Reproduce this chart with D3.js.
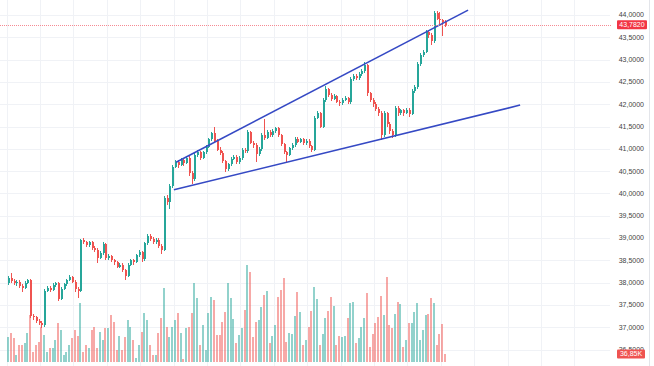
<!DOCTYPE html>
<html>
<head>
<meta charset="utf-8">
<script src="https://cdn.jsdelivr.net/npm/d3@7"></script>
<style>
  body { margin: 0; background: #fff; }
  svg { display: block; }
  text { font-family: "Liberation Sans", Arial, sans-serif; }
</style>
</head>
<body>
<div id="chart"></div>
<script>
const WIDTH = 654;
const HEIGHT = 366;
const PLOT_RIGHT = 610;

// [open, high, low, close]
const candles = [
  [37.98, 38.14, 37.95, 38.10], [38.10, 38.22, 37.99, 38.03], [38.03, 38.07, 37.94, 37.98], [37.98, 38.06, 37.92, 38.02],
  [38.02, 38.05, 37.88, 37.93], [37.93, 37.97, 37.78, 37.88], [37.88, 38.04, 37.85, 38.00], [38.00, 38.09, 37.96, 38.05],
  [38.05, 38.08, 37.20, 37.24], [37.24, 37.30, 37.16, 37.22], [37.22, 37.26, 37.10, 37.15], [37.15, 37.19, 37.05, 37.10],
  [37.10, 37.13, 36.98, 37.04], [37.04, 37.86, 37.00, 37.82], [37.82, 37.93, 37.78, 37.88], [37.88, 37.92, 37.79, 37.84],
  [37.84, 37.98, 37.81, 37.94], [37.94, 38.02, 37.90, 37.98], [37.98, 38.01, 37.58, 37.64], [37.64, 37.90, 37.61, 37.86],
  [37.86, 37.99, 37.83, 37.96], [37.96, 38.09, 37.93, 38.06], [38.06, 38.18, 38.03, 38.12], [38.12, 38.15, 37.98, 38.02],
  [38.02, 38.05, 37.78, 37.86], [37.86, 37.90, 37.66, 37.82], [37.82, 38.98, 37.80, 38.95], [38.95, 39.00, 38.86, 38.90],
  [38.90, 38.94, 38.80, 38.84], [38.84, 38.94, 38.80, 38.90], [38.90, 38.93, 38.74, 38.78], [38.78, 38.82, 38.68, 38.74],
  [38.74, 38.77, 38.44, 38.55], [38.55, 38.70, 38.52, 38.66], [38.66, 38.90, 38.62, 38.86], [38.86, 38.88, 38.50, 38.55],
  [38.55, 38.64, 38.50, 38.60], [38.60, 38.63, 38.46, 38.50], [38.50, 38.54, 38.40, 38.46], [38.46, 38.49, 38.32, 38.36],
  [38.36, 38.44, 38.33, 38.40], [38.40, 38.43, 38.24, 38.28], [38.28, 38.31, 38.06, 38.15], [38.15, 38.44, 38.12, 38.40],
  [38.40, 38.53, 38.37, 38.50], [38.50, 38.54, 38.40, 38.46], [38.46, 38.65, 38.43, 38.62], [38.62, 38.72, 38.58, 38.68],
  [38.68, 38.71, 38.46, 38.52], [38.52, 38.91, 38.49, 38.88], [38.88, 39.10, 38.85, 39.04], [39.04, 39.08, 38.94, 38.98],
  [38.98, 39.02, 38.86, 38.90], [38.90, 39.00, 38.87, 38.96], [38.96, 38.99, 38.78, 38.82], [38.82, 38.86, 38.64, 38.72],
  [38.72, 39.95, 38.70, 39.90], [39.90, 39.96, 39.74, 39.80], [39.80, 40.20, 39.64, 40.16], [40.16, 40.64, 40.12, 40.60],
  [40.60, 40.74, 40.56, 40.70], [40.70, 40.76, 40.58, 40.64], [40.64, 40.80, 40.61, 40.76], [40.76, 40.79, 40.62, 40.68],
  [40.68, 40.84, 40.65, 40.80], [40.80, 40.84, 40.40, 40.45], [40.45, 40.50, 40.20, 40.32], [40.32, 40.90, 40.28, 40.86],
  [40.86, 40.98, 40.82, 40.92], [40.92, 40.95, 40.76, 40.80], [40.80, 40.95, 40.77, 40.92], [40.92, 41.08, 40.89, 41.05],
  [41.05, 41.25, 41.02, 41.22], [41.22, 41.38, 41.18, 41.35], [41.35, 41.48, 41.14, 41.18], [41.18, 41.22, 40.94, 40.98],
  [40.98, 41.03, 40.86, 40.90], [40.90, 40.94, 40.68, 40.72], [40.72, 40.76, 40.48, 40.54], [40.54, 40.69, 40.50, 40.66],
  [40.66, 40.81, 40.62, 40.78], [40.78, 40.86, 40.74, 40.82], [40.82, 40.85, 40.66, 40.70], [40.70, 40.83, 40.67, 40.80],
  [40.80, 41.02, 40.76, 40.98], [40.98, 41.02, 40.90, 40.94], [40.94, 41.42, 40.90, 41.38], [41.38, 41.41, 41.10, 41.14],
  [41.14, 41.18, 41.02, 41.08], [41.08, 41.12, 40.70, 40.88], [40.88, 41.04, 40.84, 41.00], [41.00, 41.36, 40.96, 41.32],
  [41.32, 41.66, 41.20, 41.24], [41.24, 41.42, 41.21, 41.38], [41.38, 41.42, 41.26, 41.30], [41.30, 41.44, 41.27, 41.40],
  [41.40, 41.50, 41.36, 41.46], [41.46, 41.49, 41.26, 41.30], [41.30, 41.34, 41.06, 41.10], [41.10, 41.14, 40.88, 40.92],
  [40.92, 40.96, 40.70, 40.86], [40.86, 41.05, 40.83, 41.02], [41.02, 41.12, 40.98, 41.08], [41.08, 41.26, 41.04, 41.22],
  [41.22, 41.26, 41.12, 41.16], [41.16, 41.25, 41.12, 41.22], [41.22, 41.25, 41.08, 41.12], [41.12, 41.22, 41.09, 41.18],
  [41.18, 41.21, 41.02, 41.06], [41.06, 41.09, 40.92, 40.98], [40.98, 41.74, 40.94, 41.70], [41.70, 41.84, 41.66, 41.80],
  [41.80, 41.83, 41.46, 41.50], [41.50, 42.14, 41.46, 42.10], [42.10, 42.40, 42.06, 42.34], [42.34, 42.37, 42.16, 42.20],
  [42.20, 42.24, 42.08, 42.12], [42.12, 42.22, 42.09, 42.18], [42.18, 42.21, 42.02, 42.06], [42.06, 42.09, 41.96, 42.02],
  [42.02, 42.14, 41.99, 42.10], [42.10, 42.18, 42.07, 42.14], [42.14, 42.17, 42.00, 42.04], [42.04, 42.60, 42.01, 42.56],
  [42.56, 42.68, 42.52, 42.64], [42.64, 42.67, 42.54, 42.58], [42.58, 42.72, 42.55, 42.68], [42.68, 42.78, 42.64, 42.74],
  [42.74, 42.94, 42.70, 42.88], [42.88, 42.91, 42.18, 42.24], [42.24, 42.28, 42.04, 42.10], [42.10, 42.14, 41.94, 42.00],
  [42.00, 42.04, 41.84, 41.90], [41.90, 41.94, 41.74, 41.80], [41.80, 41.84, 41.20, 41.30], [41.30, 41.84, 41.26, 41.80],
  [41.80, 41.83, 41.50, 41.56], [41.56, 41.60, 41.34, 41.40], [41.40, 41.44, 41.24, 41.30], [41.30, 41.96, 41.26, 41.92],
  [41.92, 41.96, 41.74, 41.80], [41.80, 41.90, 41.76, 41.86], [41.86, 41.90, 41.74, 41.80], [41.80, 41.92, 41.77, 41.88],
  [41.88, 41.91, 41.72, 41.78], [41.78, 42.34, 41.75, 42.30], [42.30, 42.42, 42.26, 42.38], [42.38, 42.94, 42.34, 42.90],
  [42.90, 43.14, 42.86, 43.10], [43.10, 43.22, 43.06, 43.18], [43.18, 43.66, 43.14, 43.62], [43.62, 43.66, 43.48, 43.56],
  [43.56, 43.60, 43.32, 43.42], [43.42, 44.08, 43.38, 44.04], [44.04, 44.10, 43.88, 43.92], [43.92, 44.06, 43.80, 43.88],
  [43.88, 43.92, 43.54, 43.84], [43.84, 43.88, 43.72, 43.782]
];

// volume, thousands
const volumes = [
  115, 133, 110, 32, 78, 78, 87, 133, 216, 46, 78, 92, 161, 124, 46, 64, 64, 101, 179, 147,
  32, 46, 78, 110, 147, 120, 271, 46, 78, 64, 147, 161, 64, 138, 101, 156, 156, 216, 184, 55,
  120, 55, 115, 193, 161, 101, 20, 78, 138, 225, 193, 78, 32, 32, 133, 202, 340, 161, 115, 161,
  193, 225, 133, 12, 156, 161, 225, 363, 294, 78, 170, 55, 225, 299, 285, 124, 124, 184, 230, 363,
  294, 200, 87, 124, 156, 239, 446, 414, 115, 184, 193, 253, 308, 327, 87, 120, 170, 299, 331, 386,
  92, 133, 129, 212, 322, 230, 78, 101, 161, 235, 345, 290, 78, 129, 202, 235, 299, 258, 78, 120,
  115, 118, 202, 271, 276, 87, 110, 161, 202, 317, 69, 129, 179, 207, 304, 216, 391, 170, 156, 221,
  276, 267, 69, 101, 179, 179, 230, 271, 101, 147, 216, 221, 294, 271, 78, 129, 175, 36.85
];

const priceTicks = [36.5, 37, 37.5, 38, 38.5, 39, 39.5, 40, 40.5, 41, 41.5, 42, 42.5, 43, 43.5, 44];
// vertical grid, in bar index units (day boundaries)
const gridBars = [-0.5, 11.5, 23.5, 35.5, 47.5, 59.5, 71.5, 83.5, 95.5, 107.5, 119.5, 131.5, 143.5, 155.5, 167.5, 179.5, 191.5, 203.5];

// wedge lines: [bar index, price]
const upperLine = [[60.4, 40.70], [165.3, 44.11]];
const lowerLine = [[59.6, 40.08], [184, 41.98]];

const lastPrice = 43.782;
const lastVolumeLabel = "36,85K";

const UP = "#26a69a";
const DOWN = "#ef5350";

const fmt = (v) => d3.format(".4f")(v).replace(".", ",");

const svg = d3.select("#chart")
  .append("svg")
  .attr("width", WIDTH)
  .attr("height", HEIGHT)
  .style("background", "#fff");

const x = d3.scaleLinear().domain([0, candles.length - 1]).range([8, 445]);
const y = d3.scaleLinear().domain([36.5, 44]).range([349.5, 15]);
const yVol = d3.scaleLinear().domain([0, 460]).range([362, 262]);

// grid
const grid = svg.append("g").attr("shape-rendering", "crispEdges");
grid.selectAll("line.h")
  .data(priceTicks)
  .join("line")
  .attr("class", "h")
  .attr("x1", 0)
  .attr("x2", PLOT_RIGHT)
  .attr("y1", (d) => Math.round(y(d)) + 0.5)
  .attr("y2", (d) => Math.round(y(d)) + 0.5)
  .attr("stroke", "#f0f2f6");
grid.selectAll("line.v")
  .data(gridBars)
  .join("line")
  .attr("class", "v")
  .attr("x1", (d) => Math.round(x(d)) + 0.5)
  .attr("x2", (d) => Math.round(x(d)) + 0.5)
  .attr("y1", 0)
  .attr("y2", HEIGHT)
  .attr("stroke", "#f0f2f6");

svg.append("line")
  .attr("x1", 649.5).attr("x2", 649.5)
  .attr("y1", 0).attr("y2", HEIGHT)
  .attr("stroke", "#e3e5ea");

// volume
svg.append("g")
  .attr("shape-rendering", "crispEdges")
  .selectAll("rect")
  .data(volumes)
  .join("rect")
  .attr("x", (d, i) => Math.round(x(i)) - 1)
  .attr("width", 2)
  .attr("y", (d) => yVol(d))
  .attr("height", (d) => yVol(0) - yVol(d))
  .attr("fill", (d, i) => candles[i][3] >= candles[i][0] ? UP : DOWN)
  .attr("fill-opacity", 0.5);

// candles
const cg = svg.append("g").attr("shape-rendering", "crispEdges");
cg.selectAll("rect.wick")
  .data(candles)
  .join("rect")
  .attr("class", "wick")
  .attr("x", (d, i) => Math.round(x(i)))
  .attr("width", 1)
  .attr("y", (d) => y(d[1]))
  .attr("height", (d) => Math.max(1, y(d[2]) - y(d[1])))
  .attr("fill", (d) => d[3] >= d[0] ? UP : DOWN);
cg.selectAll("rect.body")
  .data(candles)
  .join("rect")
  .attr("class", "body")
  .attr("x", (d, i) => Math.round(x(i)) - 0.5)
  .attr("width", 2)
  .attr("y", (d) => y(Math.max(d[0], d[3])))
  .attr("height", (d) => Math.max(1, Math.abs(y(d[0]) - y(d[3]))))
  .attr("fill", (d) => d[3] >= d[0] ? UP : DOWN);

// wedge
const line = d3.line().x((d) => x(d[0])).y((d) => y(d[1]));
svg.selectAll("path.wedge")
  .data([upperLine, lowerLine])
  .join("path")
  .attr("class", "wedge")
  .attr("d", line)
  .attr("fill", "none")
  .attr("stroke", "#3549c4")
  .attr("stroke-width", 1.6);

// last price line
svg.append("line")
  .attr("x1", 0)
  .attr("x2", 612)
  .attr("y1", Math.round(y(lastPrice)) + 0.5)
  .attr("y2", Math.round(y(lastPrice)) + 0.5)
  .attr("stroke", "#f58a93")
  .attr("stroke-dasharray", "1,1");

// price axis labels
svg.append("g")
  .selectAll("text")
  .data(priceTicks)
  .join("text")
  .attr("x", 644)
  .attr("y", (d) => y(d))
  .attr("dy", "0.35em")
  .attr("text-anchor", "end")
  .style("font-size", "7px")
  .attr("fill", "#444")
  .text(fmt);

// last price tag
svg.append("rect")
  .attr("x", 617)
  .attr("y", y(lastPrice) - 4.5)
  .attr("width", 30)
  .attr("height", 9)
  .attr("rx", 1)
  .attr("fill", "#f23645");
svg.append("text")
  .attr("x", 632)
  .attr("y", y(lastPrice))
  .attr("dy", "0.35em")
  .attr("text-anchor", "middle")
  .style("font-size", "7px")
  .attr("fill", "#fff")
  .text(fmt(lastPrice));

// last volume tag
const lastVol = volumes[volumes.length - 1];
svg.append("rect")
  .attr("x", 617)
  .attr("y", yVol(lastVol) - 4.5)
  .attr("width", 28)
  .attr("height", 9)
  .attr("rx", 1)
  .attr("fill", "#ef5350");
svg.append("text")
  .attr("x", 631)
  .attr("y", yVol(lastVol))
  .attr("dy", "0.35em")
  .attr("text-anchor", "middle")
  .style("font-size", "7px")
  .attr("fill", "#fff")
  .text(lastVolumeLabel);
</script>
</body>
</html>
